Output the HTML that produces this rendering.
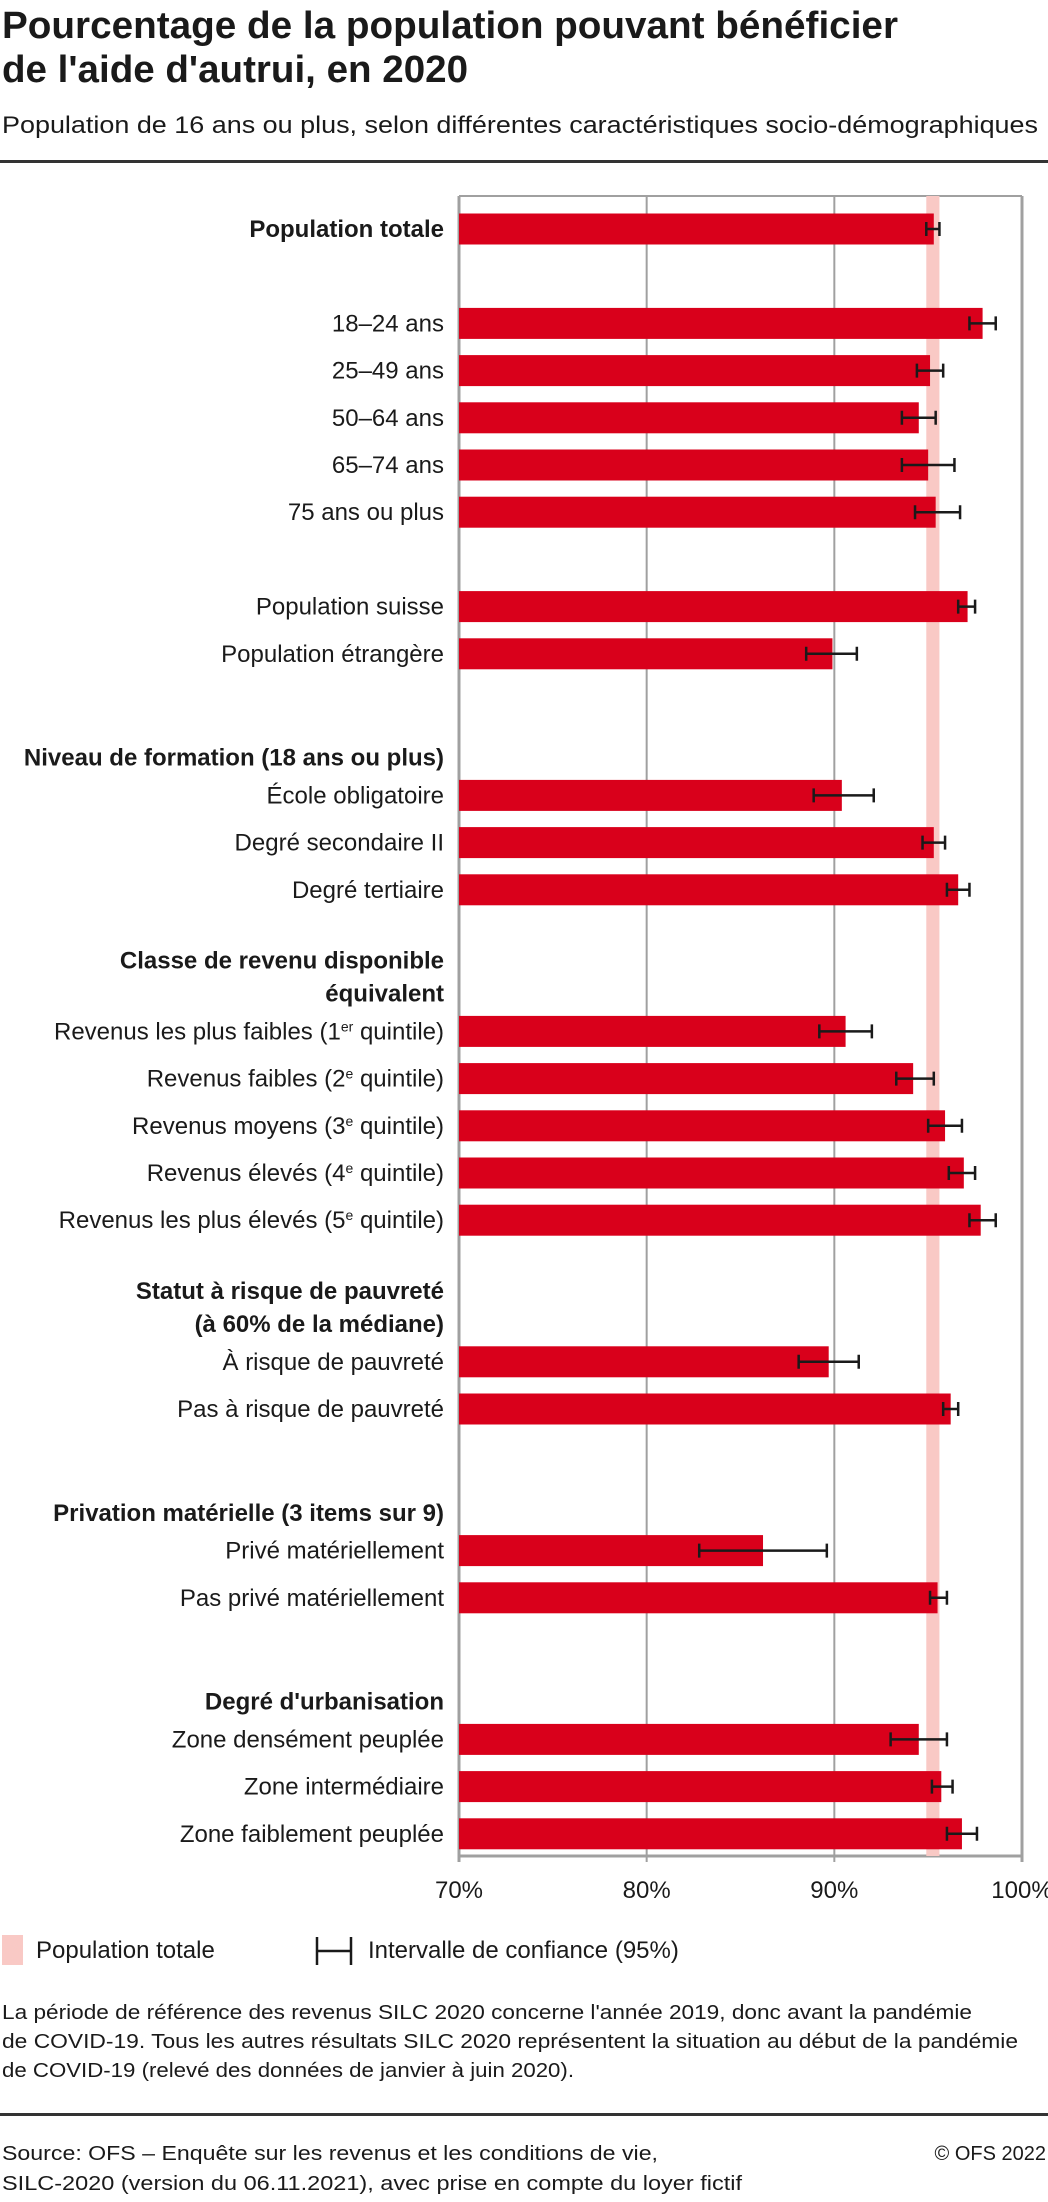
<!DOCTYPE html>
<html><head><meta charset="utf-8"><style>
body{margin:0;background:#fff}
svg text{font-family:"Liberation Sans Narrow","Liberation Sans",sans-serif;fill:#1a1a1a}
</style></head><body>
<svg id="chart" width="1048" height="2197" viewBox="0 0 1048 2197" xmlns="http://www.w3.org/2000/svg">
<text x="2" y="38" font-size="38" font-weight="bold" textLength="896" lengthAdjust="spacingAndGlyphs">Pourcentage de la population pouvant bénéficier</text>
<text x="2" y="82" font-size="38" font-weight="bold" textLength="466" lengthAdjust="spacingAndGlyphs">de l'aide d'autrui, en 2020</text>
<text x="2" y="133" font-size="24" textLength="1036" lengthAdjust="spacingAndGlyphs">Population de 16 ans ou plus, selon différentes caractéristiques socio-démographiques</text>
<rect x="0" y="160" width="1048" height="3" fill="#333"/>
<g id="plot"></g>
<g>
<rect x="2" y="1935" width="21" height="30" fill="#f9c9c5"/>
<text x="36" y="1958" font-size="24">Population totale</text>
<path d="M317 1937v28M317 1951h34M351 1937v28" stroke="#1a1a1a" stroke-width="2.5" fill="none"/>
<text x="368" y="1958" font-size="24">Intervalle de confiance (95%)</text>
</g>
<g font-size="20">
<text x="2" y="2019" textLength="970" lengthAdjust="spacingAndGlyphs">La période de référence des revenus SILC 2020 concerne l'année 2019, donc avant la pandémie</text>
<text x="2" y="2048" textLength="1016" lengthAdjust="spacingAndGlyphs">de COVID-19. Tous les autres résultats SILC 2020 représentent la situation au début de la pandémie</text>
<text x="2" y="2077" textLength="572" lengthAdjust="spacingAndGlyphs">de COVID-19 (relevé des données de janvier à juin 2020).</text>
</g>
<rect x="0" y="2113" width="1048" height="3" fill="#333"/>
<g font-size="20">
<text x="2" y="2160" textLength="656" lengthAdjust="spacingAndGlyphs">Source: OFS – Enquête sur les revenus et les conditions de vie,</text>
<text x="2" y="2190" textLength="740" lengthAdjust="spacingAndGlyphs">SILC-2020 (version du 06.11.2021), avec prise en compte du loyer fictif</text>
<text x="1046" y="2160" text-anchor="end">© OFS 2022</text>
</g>
</svg>
<script>
const categories=["Population totale","18–24 ans","25–49 ans","50–64 ans","65–74 ans","75 ans ou plus","Population suisse","Population étrangère","École obligatoire","Degré secondaire II","Degré tertiaire","Revenus les plus faibles (1|er| quintile)","Revenus faibles (2|e| quintile)","Revenus moyens (3|e| quintile)","Revenus élevés (4|e| quintile)","Revenus les plus élevés (5|e| quintile)","À risque de pauvreté","Pas à risque de pauvreté","Privé matériellement","Pas privé matériellement","Zone densément peuplée","Zone intermédiaire","Zone faiblement peuplée"];
const slots=[0,2,3,4,5,6,8,9,12,13,14,17,18,19,20,21,24,25,28,29,32,33,34];
const values=[95.3,97.9,95.1,94.5,95.0,95.4,97.1,89.9,90.4,95.3,96.6,90.6,94.2,95.9,96.9,97.8,89.7,96.2,86.2,95.5,94.5,95.7,96.8];
const ciLow=[94.9,97.2,94.4,93.6,93.6,94.3,96.6,88.5,88.9,94.7,96.0,89.2,93.3,95.0,96.1,97.2,88.1,95.8,82.8,95.1,93.0,95.2,96.0];
const ciHigh=[95.6,98.6,95.8,95.4,96.4,96.7,97.5,91.2,92.1,95.9,97.2,92.0,95.3,96.8,97.5,98.6,91.3,96.6,89.6,96.0,96.0,96.3,97.6];
const headers=[["Niveau de formation (18 ans ou plus)",11.2],["Classe de revenu disponible",15.5],["équivalent",16.2],["Statut à risque de pauvreté",22.5],["(à 60% de la médiane)",23.2],["Privation matérielle (3 items sur 9)",27.2],["Degré d'urbanisation",31.2]];
const bandLow=94.9, bandHigh=95.6;
const ticks=[70,80,90,100];

const NS="http://www.w3.org/2000/svg";
const g=document.getElementById('plot');
const X0=459,X1=1022,D0=70,D1=100;
const x=v=>X0+(v-D0)/(D1-D0)*(X1-X0);
const y=s=>229+s*47.2;
const BH=31, TOP=196, BOT=1856;
function el(t,a,p){const e=document.createElementNS(NS,t);for(const k in a)e.setAttribute(k,a[k]);(p||g).appendChild(e);return e;}
ticks.forEach((t,i)=>{
  const l=el('line',{x1:x(t),x2:x(t),y1:TOP,y2:BOT+6,stroke:'#a0a0a0','stroke-width':(i==0||i==3)?3:2});
  
  
  const tx=el('text',{x:x(t),y:1898,'font-size':24,'text-anchor':'middle'});tx.textContent=t+'%';
  
  
});
const topL=el('line',{x1:X0,x2:X1,y1:TOP,y2:TOP,stroke:'#a0a0a0','stroke-width':2});


const botL=el('line',{x1:X0,x2:X1,y1:BOT,y2:BOT,stroke:'#a0a0a0','stroke-width':3});


const band=el('rect',{x:x(bandLow),y:TOP,width:x(bandHigh)-x(bandLow),height:BOT-TOP,fill:'#f9c9c5'});


categories.forEach((c,i)=>{
  const cy=y(slots[i]);
  const r=el('rect',{x:X0,y:cy-BH/2,width:x(values[i])-X0,height:BH,fill:'#d9001b'});
  
  
  const p=el('path',{d:`M${x(ciLow[i])} ${cy-7}v14M${x(ciLow[i])} ${cy}H${x(ciHigh[i])}M${x(ciHigh[i])} ${cy-7}v14`,stroke:'#1a1a1a','stroke-width':2.5,fill:'none'});
  
  
  const t=el('text',{x:444,y:cy+8,'font-size':24,'text-anchor':'end'});
  if(i==0)t.setAttribute('font-weight','bold');
  const parts=c.split('|');
  parts.forEach((s,j)=>{const ts=document.createElementNS(NS,'tspan');ts.textContent=s;
    if(j==1){ts.setAttribute('baseline-shift','super');ts.setAttribute('font-size','14');}
    t.appendChild(ts);});
  
  
});
headers.forEach((h,i)=>{
  const t=el('text',{x:444,y:y(h[1])+8,'font-size':24,'font-weight':'bold','text-anchor':'end'});t.textContent=h[0];
  
  
});
</script>
</body></html>
